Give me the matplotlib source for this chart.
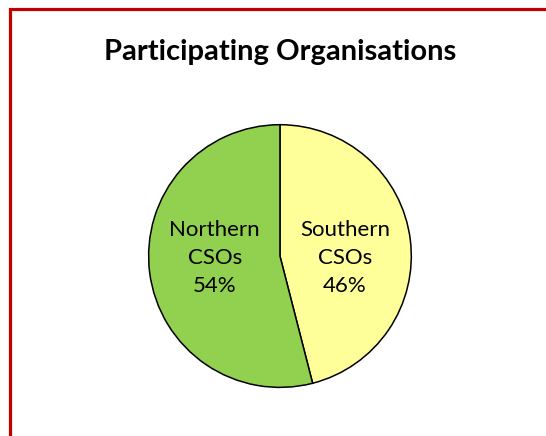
import matplotlib
matplotlib.use("Agg")
import matplotlib.pyplot as plt
from matplotlib.patches import Rectangle

categories = ["Southern\nCSOs", "Northern\nCSOs"]
values = [46, 54]
colors = ["#FFFF99", "#92D050"]
title = "Participating Organisations"

plt.rcParams['font.family'] = ['Lato', 'DejaVu Sans']

fig = plt.figure(figsize=(5.46, 4.36), dpi=100)

# red frame (right and bottom edges run off the picture)
fig.patches.append(Rectangle((9.5 / 546, -0.1), 1.2, 1 - 9.5 / 436 + 0.1,
                             transform=fig.transFigure, fill=False,
                             edgecolor="#C00000", linewidth=2.3))

fig.text(280 / 546, 1 - 52 / 436, title, ha="center", va="center",
         fontsize=21, fontweight="bold", color="black")

ax = fig.add_axes([0.271, 0.110, 0.4835, 0.6055])
labels = ["%s\n%d%%" % (c, v) for c, v in zip(categories, values)]
wedges, texts = ax.pie(values, labels=labels, colors=colors, startangle=90,
                       counterclock=False, labeldistance=0.5,
                       wedgeprops=dict(edgecolor="black", linewidth=1.1))
for t in texts:
    # Excel-style: labels sit level with the pie centre
    x, y = t.get_position()
    t.set_position((x, -0.015))
    t.set_ha("center")
    t.set_va("center")
    t.set_fontsize(16)
    t.set_linespacing(1.5)
ax.set_xlim(-1.005, 1.005)
ax.set_ylim(-1.005, 1.005)
ax.set_aspect("equal")

fig.savefig("out.png", dpi=100)
